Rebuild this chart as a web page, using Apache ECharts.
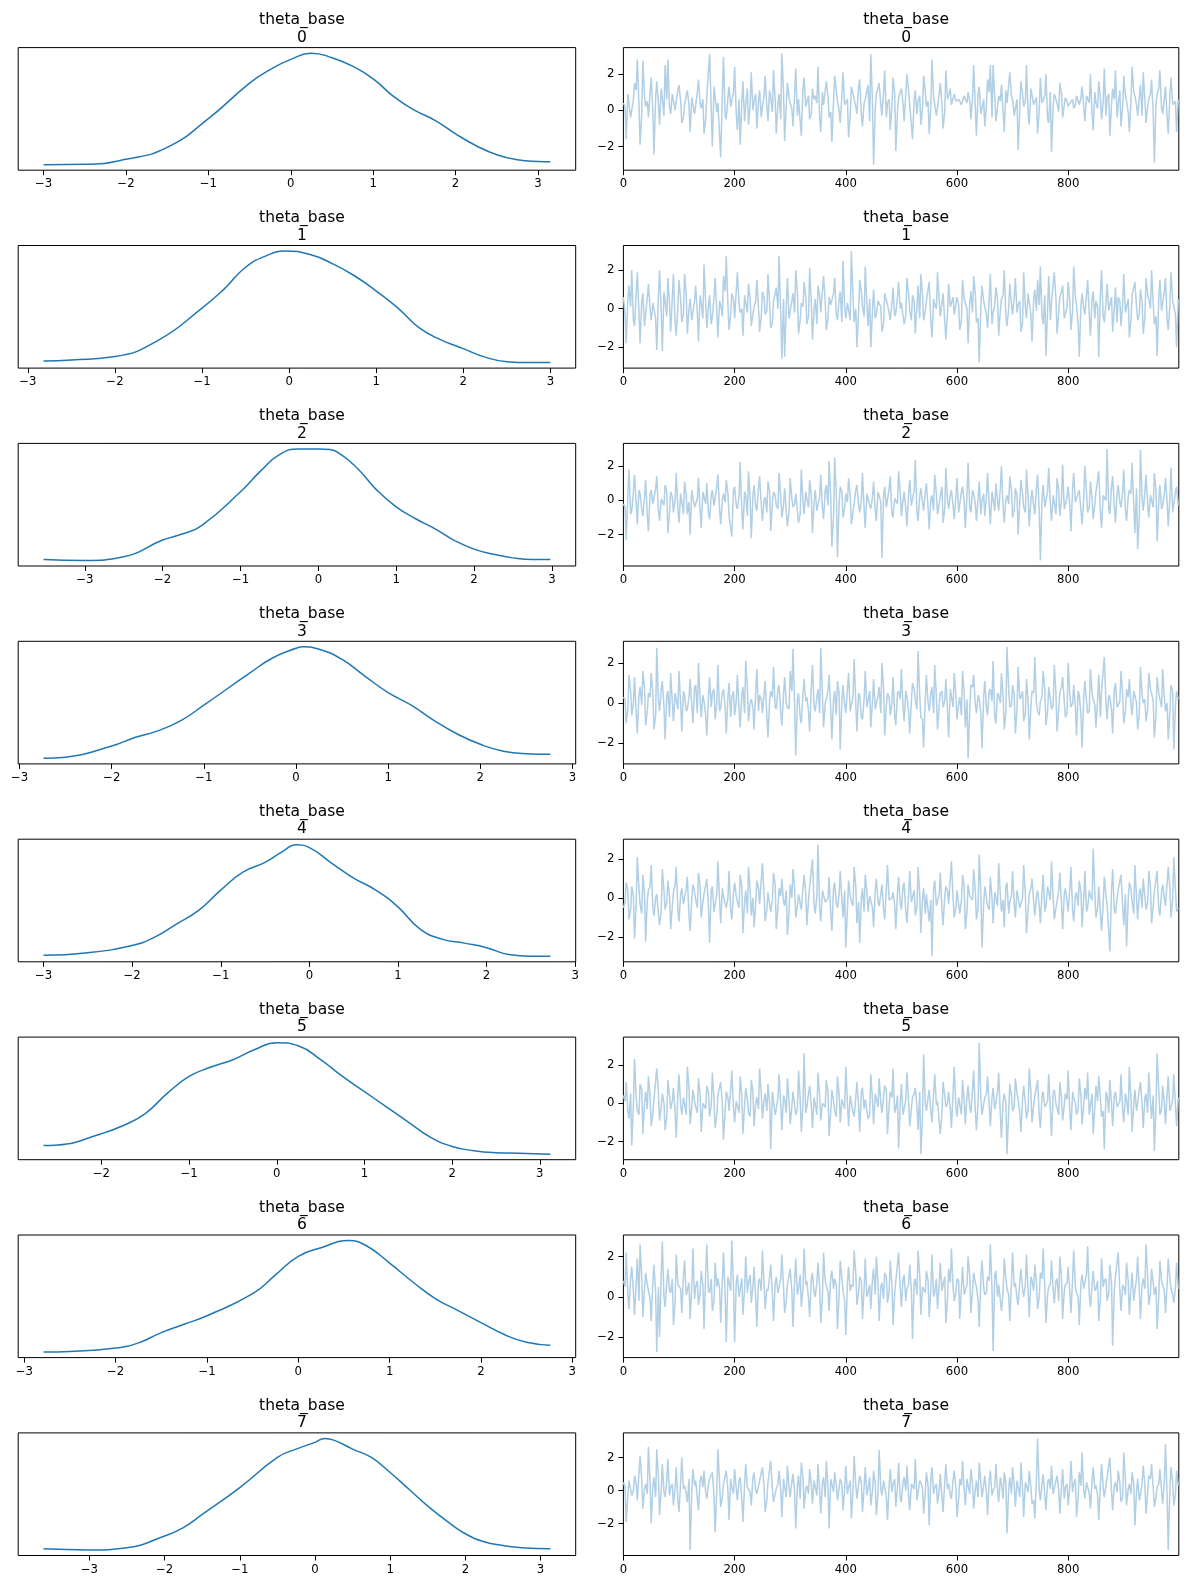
<!DOCTYPE html>
<html>
<head>
    <meta charset="utf-8">
    <title>theta_base trace</title>
    <script src="https://cdn.jsdelivr.net/npm/echarts@6.0.0/dist/echarts.min.js"></script>
    <style>
        html, body { margin: 0; padding: 0; background: #fff; }
    </style>
</head>
<body>
    <div id="main" style="width:1189px;height:1589px;"></div>
    <script type="text/javascript">
var varName = 'theta_base';
var coordLabels = ['0', '1', '2', '3', '4', '5', '6', '7'];
var traceStep = 5;   // trace arrays hold draws 0,5,10,...
var traceOffset = 3; // the "b" arrays hold draws 3,8,13,...
var traceTicks = [0, 200, 400, 600, 800];
var traceMaxDraw = 999;

// KDE curves: [value, density]
var kde0 = [[-3.0,0.005],[-2.5,0.006],[-2.0,0.024],[-1.5,0.066],[-1.0,0.168],[-0.5,0.294],[-0.25,0.342],[0,0.378],[0.25,0.400],[0.5,0.384],[0.75,0.354],[1.0,0.309],[1.25,0.246],[1.5,0.198],[1.75,0.162],[2.0,0.114],[2.25,0.072],[2.5,0.040],[2.75,0.022],[3.0,0.016],[3.15,0.015]];
var kde1 = [[-2.82,0.035],[-2.5,0.039],[-2.0,0.051],[-1.5,0.109],[-1.0,0.222],[-0.75,0.288],[-0.5,0.366],[-0.25,0.408],[-0.05,0.423],[0.25,0.410],[0.5,0.378],[0.75,0.336],[1.0,0.282],[1.25,0.222],[1.5,0.151],[1.75,0.109],[2.0,0.079],[2.25,0.049],[2.5,0.033],[2.75,0.030],[3.0,0.030]];
var kde2 = [[-3.53,0.032],[-3.0,0.029],[-2.5,0.042],[-2.0,0.101],[-1.75,0.122],[-1.5,0.152],[-1.0,0.271],[-0.75,0.342],[-0.5,0.402],[-0.25,0.422],[0,0.422],[0.15,0.420],[0.25,0.410],[0.5,0.354],[0.75,0.277],[1.0,0.218],[1.25,0.176],[1.5,0.140],[1.75,0.099],[2.0,0.069],[2.25,0.051],[2.5,0.038],[2.75,0.032],[2.98,0.032]];
var kde3 = [[-2.74,0.032],[-2.5,0.036],[-2.0,0.075],[-1.75,0.105],[-1.5,0.128],[-1.25,0.164],[-1.0,0.218],[-0.5,0.331],[-0.25,0.384],[0,0.417],[0.08,0.422],[0.25,0.414],[0.5,0.378],[0.75,0.319],[1.0,0.262],[1.25,0.218],[1.5,0.164],[1.75,0.117],[2.0,0.081],[2.25,0.057],[2.5,0.048],[2.76,0.046]];
var kde4 = [[-3.0,0.030],[-2.5,0.039],[-2.0,0.065],[-1.75,0.093],[-1.5,0.140],[-1.25,0.188],[-1.0,0.259],[-0.75,0.322],[-0.5,0.356],[-0.3,0.395],[-0.15,0.418],[0,0.408],[0.25,0.354],[0.5,0.301],[0.75,0.259],[1.0,0.200],[1.25,0.122],[1.5,0.087],[1.75,0.073],[2.0,0.057],[2.25,0.033],[2.5,0.027],[2.72,0.027]];
var kde5 = [[-2.66,0.057],[-2.5,0.059],[-2.0,0.099],[-1.75,0.128],[-1.5,0.170],[-1.25,0.241],[-1.0,0.301],[-0.75,0.334],[-0.5,0.360],[-0.25,0.396],[0,0.420],[0.25,0.408],[0.5,0.360],[0.75,0.301],[1.0,0.247],[1.25,0.194],[1.5,0.140],[1.75,0.087],[2.0,0.054],[2.25,0.039],[2.5,0.032],[2.75,0.030],[3.12,0.027]];
var kde6 = [[-2.79,0.031],[-2.5,0.033],[-2.0,0.045],[-1.75,0.063],[-1.5,0.099],[-1.25,0.128],[-1.0,0.158],[-0.5,0.235],[-0.25,0.301],[0,0.366],[0.25,0.396],[0.55,0.421],[0.75,0.402],[1.0,0.342],[1.25,0.277],[1.5,0.218],[1.75,0.176],[2.0,0.134],[2.25,0.093],[2.5,0.065],[2.76,0.055]];
var kde7 = [[-3.61,0.026],[-3.0,0.022],[-2.5,0.030],[-2.0,0.072],[-1.75,0.102],[-1.5,0.149],[-1.0,0.245],[-0.5,0.353],[-0.25,0.383],[0,0.407],[0.13,0.421],[0.25,0.415],[0.5,0.383],[0.75,0.353],[1.0,0.299],[1.25,0.239],[1.5,0.179],[1.75,0.126],[2.0,0.080],[2.25,0.051],[2.5,0.038],[2.75,0.030],[3.13,0.026]];

// traces, draws 0,5,10,...
var trace0 = [0.4,-1.6,0.9,-0.3,1.5,2.8,-1.9,2.75,0.2,-0.4, 1.8,-2.45,1.6,-0.8,0.7,2.5,2.8,-0.2,0.9,0.5,
  1.4,-0.7,0.3,1.1,-1.2,0.6,-0.3,1.7,0.1,-1.3, 0.8,3.1,-2.0,1.2,0.4,-2.6,2.95,-0.5,1.3,0.2,
  2.4,-1.1,-1.9,1.6,0.3,-0.8,2.1,0.5,-1.0,1.1, 0.2,1.9,-0.6,0.7,2.2,-1.3,0.9,3.15,-1.7,1.5,
  0.4,-0.9,2.3,0.6,-1.4,1.8,0.1,-0.5,1.2,0.8, 2.4,-1.2,0.3,1.6,-0.4,-1.75,1.9,0.5,-0.7,2.1,
  0.2,-1.5,1.3,0.8,-0.2,1.7,-0.9,0.6,1.4,3.1, -3.0,0.9,1.5,-0.3,2.2,0.4,-1.1,1.8,-2.25,0.7,
  1.2,-0.6,2.0,0.3,-1.6,1.1,0.5,-0.8,1.9,0.2, -1.3,2.8,0.6,-0.4,1.5,-1.0,2.2,0.8,0.3,0.9,
  0.4,0.7,0.2,0.6,1.0,-0.5,2.5,-1.4,1.3,0.1, -0.9,1.7,2.5,2.5,-0.6,0.8,1.4,-1.2,0.4,2.1,
  0.6,-0.3,-2.2,1.6,0.2,2.5,-0.8,1.1,0.5,-1.3, 1.8,0.3,2.0,-0.7,-2.3,0.9,0.4,1.5,-0.4,0.7,
  0.2,0.5,0.1,0.8,0.3,1.3,-0.6,0.9,2.0,-1.1, 0.4,1.6,-0.5,2.3,0.7,-1.4,1.2,2.2,0.3,-0.9,
  1.9,0.5,-1.2,2.4,0.8,-0.3,1.4,2.1,-0.7,0.6, 1.7,-2.9,0.9,2.2,-0.2,1.3,-1.3,1.8,0.4,-1.2];
var trace1 = [0.6,-1.8,1.2,2.0,-0.9,1.9,-1.8,0.8,-0.3,1.3, -0.6,0.4,-2.15,2.0,-2.2,0.9,1.6,-1.2,1.8,-1.4,
  1.5,-0.7,1.8,-1.3,0.5,-0.2,1.2,-1.7,0.3,2.3, -1.0,0.7,-0.4,1.6,-1.5,0.2,1.7,2.75,-1.1,0.8,
  -0.5,1.9,-0.2,-1.4,0.6,1.3,-0.9,0.1,1.5,-1.2, 0.9,-0.3,1.8,-1.0,0.4,1.1,2.75,-2.6,-2.5,1.6,
  -0.4,0.8,2.0,-1.3,0.3,1.4,-0.8,2.1,-1.6,0.5, 1.2,-0.2,1.7,-1.1,0.6,0.2,1.6,-0.6,0.9,2.5,
  -0.5,0.4,3.0,-0.7,-2.0,1.5,0.1,2.2,-0.9,-2.0, 1.0,-0.3,0.5,-1.2,0.8,0.2,-0.6,1.1,-0.2,1.4,
  0.3,-0.8,1.6,-0.1,0.7,-1.3,1.2,1.8,-0.6,0.4, 1.4,-1.5,0.2,1.9,-0.4,0.8,-1.6,1.3,0.1,-0.3,
  0.6,-1.1,1.5,0.3,-1.8,0.9,1.7,-0.7,-2.8,1.2, 0.4,-1.0,1.8,-0.2,1.1,-1.4,0.5,2.0,-0.9,1.3,
  -0.3,1.6,0.2,-1.2,1.9,-0.5,0.7,-1.7,1.0,1.5, 2.2,-0.8,-2.45,1.7,0.3,1.9,-1.3,0.6,1.2,-0.4,
  1.4,-1.1,2.2,0.2,-2.5,0.8,-0.3,1.5,-1.4,0.9, 0.4,-2.5,2.0,-0.7,1.3,0.2,-1.2,1.1,0.6,-0.9,
  1.8,0.1,-1.5,0.7,1.4,-0.6,1.0,-1.3,1.6,0.5, 2.0,-0.8,-2.45,1.5,0.3,1.6,-1.1,1.9,0.4,-2.0];
var trace2 = [-0.2,-2.3,1.8,-0.6,1.5,-1.4,0.4,-0.9,1.2,-1.8, 0.6,-0.3,1.4,-1.2,0.1,0.9,-1.9,0.5,-0.7,1.6,
  -1.3,0.3,1.1,-0.8,-2.0,0.7,-0.4,1.3,-1.6,0.2, 1.0,-1.1,0.6,-0.2,1.5,-1.4,0.4,1.2,-0.9,-2.1,
  0.8,-0.5,2.25,-1.7,0.3,1.7,-2.2,0.9,-0.6,1.4, -1.2,0.2,1.1,-1.8,0.5,-0.3,1.6,-1.0,0.7,-1.5,
  1.3,-0.4,0.4,-1.3,1.8,-0.8,0.1,1.2,-1.9,0.6, -0.6,1.5,-1.1,0.9,2.3,-2.7,2.5,-3.3,0.8,-1.0,
  0.4,1.3,-1.4,-0.2,0.9,-0.7,1.6,-1.6,0.3,-0.5, 1.1,-1.2,0.6,-3.35,0.8,-0.4,1.4,-1.0,0.2,1.7,
  -0.9,0.5,-1.5,1.2,-0.3,2.35,-1.2,0.7,-0.6,1.0, -1.7,0.3,1.5,-0.8,0.2,-1.3,1.9,-0.5,0.6,-1.1,
  1.3,-0.2,0.8,-1.6,2.2,-0.7,0.4,-1.2,1.1,0.0, -0.9,1.6,-1.4,0.5,1.0,-0.6,2.0,-1.3,0.3,1.4,
  -1.0,0.7,-2.0,1.2,-0.4,1.8,-1.5,0.6,-0.8,1.5, -3.5,0.9,-0.3,1.9,-1.2,0.4,1.3,-0.9,2.1,-0.5,
  0.8,-1.8,1.6,-0.2,0.6,-1.4,2.0,-0.7,1.1,-1.1, 0.5,1.7,-1.6,0.2,3.0,-0.8,1.4,-1.3,0.9,-0.4,
  1.8,-1.2,0.6,2.2,-1.9,-2.85,2.95,-0.6,1.5,-1.0, 0.4,1.6,-2.4,0.9,-0.3,1.3,-1.5,1.9,-0.6,0.8];
var trace3 = [0.3,-1.0,1.4,-0.6,1.3,-1.5,0.8,1.6,-1.1,0.5, 1.5,-1.3,2.75,-0.4,1.1,-1.8,0.6,1.5,-0.9,0.2,
  1.6,-1.4,0.4,-0.3,1.2,-1.0,0.9,2.0,-0.7,0.1, -1.6,1.3,0.5,-0.8,1.9,-0.2,0.7,-1.5,1.0,0.3,
  -0.6,1.4,-1.2,0.8,2.1,-0.9,0.2,-1.3,1.7,0.4, -0.5,1.1,-1.7,0.6,1.8,-0.3,0.9,-1.1,1.3,-0.2,
  1.6,2.7,-2.6,0.5,-1.0,1.2,0.3,-1.4,1.9,-0.4, 0.7,2.75,-1.2,0.2,1.4,-1.8,0.6,1.1,-2.3,0.9,
  -0.5,1.5,-0.1,2.2,-1.4,0.4,-0.8,1.6,0.1,-1.2, 1.2,-0.3,0.8,2.0,-1.6,0.5,-0.6,1.3,-1.1,0.6,
  1.7,-0.9,0.3,-1.5,1.0,0.2,2.6,-0.7,-2.2,1.4, -0.4,0.8,1.9,-1.3,0.5,-0.2,1.2,-1.7,0.7,1.5,
  -0.8,0.3,1.6,-1.2,-2.74,0.9,1.4,-0.5,0.2,-2.25, 1.1,-0.6,0.7,2.1,-1.0,0.4,1.5,-1.3,2.8,-0.2,
  0.9,-1.5,1.8,0.3,-0.9,1.2,-1.8,0.6,2.3,-0.4, 0.1,1.6,-1.1,0.8,-0.3,1.9,-1.4,0.5,1.3,-0.7,
  2.0,-0.2,0.9,-1.6,0.4,-2.2,1.1,-0.5,1.7,0.2, -1.2,1.4,0.6,2.3,-0.8,0.3,-1.5,1.0,-0.1,1.6,
  -1.0,0.7,1.2,-0.6,0.4,-1.3,1.8,0.0,-0.9,1.5, 0.5,-1.7,1.3,0.2,1.7,-0.4,-1.8,0.9,-2.3,0.6];
var trace4 = [-0.5,0.8,-1.1,0.6,-2.1,2.1,-0.3,1.2,-2.25,0.4, 1.7,-0.9,0.2,-1.4,1.5,-0.6,0.9,-1.6,0.3,1.6,
  -1.2,0.5,-0.4,1.1,-1.7,0.7,-0.1,1.3,-1.0,0.2, 1.0,-2.3,0.6,-0.8,1.9,-1.3,0.1,-0.5,1.4,-1.1,
  0.8,-0.2,1.2,-1.8,0.4,1.6,-0.9,-1.5,0.9,-0.3, 1.8,-1.2,0.3,-0.7,1.3,-1.6,0.5,1.0,-0.4,-1.9,
  0.7,1.5,-1.0,0.2,-0.6,1.2,-1.4,0.6,2.0,-0.8, 2.75,-1.2,0.4,-0.3,1.1,-1.7,0.8,-0.5,1.4,-1.0,
  -2.55,0.9,-0.2,1.6,-1.3,-2.3,0.5,1.2,-0.7,0.1, -1.5,1.0,-0.4,0.7,-1.1,1.7,-0.2,0.3,-1.6,1.1,
  -0.6,0.8,-1.3,1.4,-0.1,-0.9,1.6,-1.8,0.5,0.2, -1.2,-3.0,0.9,-0.5,1.3,-1.4,0.6,-0.3,1.9,-1.0,
  0.4,-0.8,1.2,-1.6,0.7,0.0,1.5,-1.1,2.25,-2.55, 0.6,-0.4,1.1,-1.3,0.3,1.8,-0.7,-1.5,0.8,-0.2,
  1.4,-1.0,0.5,-0.6,1.7,-1.8,0.2,1.0,-0.9,0.4, -1.3,1.2,-0.4,0.7,1.9,-1.1,-0.2,1.3,-1.6,0.5,
  -0.7,1.6,-1.2,0.3,0.9,-1.5,1.4,-0.5,0.1,2.55, -1.0,0.6,-1.7,1.1,-0.3,-2.75,1.5,-0.8,0.4,1.2,
  -1.4,-2.5,0.8,-0.2,1.7,-1.1,0.5,1.0,-0.6,1.4, -1.3,0.3,1.4,-0.9,0.7,-0.4,1.6,-1.0,2.1,-0.7];
var trace5 = [0.4,1.1,-0.8,-2.2,2.3,-0.4,1.0,-1.6,0.6,1.4, -1.2,0.2,1.8,-0.9,0.5,-1.4,1.2,-0.3,0.8,-1.8,
  1.5,-0.6,0.3,1.9,-1.1,0.7,-0.2,1.3,-1.5,0.1, 0.9,-0.7,1.6,-1.3,0.4,1.1,-1.9,0.6,-0.4,1.7,
  -1.0,0.2,1.4,-1.6,0.8,-0.5,1.2,-1.2,0.3,1.8, -0.8,0.5,1.0,-2.4,0.7,-0.3,1.5,-1.4,0.2,1.3,
  -1.1,0.6,-0.6,1.7,-1.5,2.6,-0.2,0.9,-1.3,0.4, 1.6,-0.9,0.1,1.2,-1.7,0.7,-0.4,1.4,-1.0,0.3,
  1.9,-1.2,0.5,-0.7,1.1,-1.5,0.8,0.2,-0.8,1.5, -1.1,0.4,1.3,-0.5,0.9,-1.6,0.6,1.8,-0.3,-2.35,
  1.0,-0.6,1.6,-1.2,0.3,0.8,-1.4,-2.65,2.55,-0.4, 0.7,-1.0,1.5,0.1,-1.6,1.1,-0.2,0.6,-1.3,1.9,
  -0.7,0.4,1.2,-1.1,0.9,-0.5,1.7,-1.4,3.15,-0.6, 0.3,1.4,-1.2,0.8,-0.3,1.6,-1.8,0.5,-2.65,1.0,
  -0.4,1.3,0.2,-1.5,0.9,-0.8,1.8,-1.0,0.4,1.2, -1.3,0.6,-0.2,1.5,-1.7,0.7,0.1,1.1,-0.9,0.5,
  1.7,-1.4,0.3,-0.6,1.3,-1.1,0.8,1.6,-0.5,-1.6, 0.9,1.4,-0.7,-2.4,0.4,1.2,-1.2,0.6,-0.3,1.5,
  -1.0,0.2,1.9,-1.5,0.7,-0.4,1.1,-1.3,0.5,1.6, -0.8,-2.5,2.6,-0.6,0.9,-1.1,1.4,-0.2,1.5,-1.2];
var trace6 = [0.8,2.2,-0.6,1.5,-0.9,1.9,2.6,-1.0,1.2,0.3, -1.2,1.6,-2.75,-2.0,2.75,-0.5,1.4,0.2,-1.4,2.1,
  0.6,-0.8,1.8,0.1,-1.1,2.4,0.5,-0.4,1.3,-1.6, 2.6,0.2,-0.7,1.7,0.9,-1.3,2.2,-2.25,1.0,2.8,
  -2.25,1.1,0.4,-0.9,2.0,0.7,-0.3,1.5,-1.5,0.9, 2.3,-0.6,0.3,1.6,-1.2,1.0,0.2,2.1,-0.8,0.6,
  1.4,-1.5,1.9,0.4,-0.5,2.4,0.8,-1.0,1.2,0.0, 1.7,-1.3,2.2,0.5,-0.7,1.3,0.9,-1.6,1.8,0.3,
  -1.9,1.5,0.6,2.3,-0.4,1.0,-1.1,1.9,0.2,-0.6, 1.4,2.0,-1.2,0.7,1.2,-0.3,1.8,-1.4,0.8,2.2,
  -0.5,1.1,0.4,1.6,-2.1,0.9,2.3,-0.9,0.5,1.3, -1.0,2.1,0.2,-0.6,1.7,0.6,-1.3,1.4,2.4,-0.2,
  0.9,-1.1,1.5,0.3,2.0,-0.8,1.2,0.5,-1.5,1.8, 0.1,1.0,2.6,-2.7,1.3,0.6,-0.7,1.9,0.4,-1.2,
  2.2,0.7,-0.4,1.4,0.0,2.1,-1.0,0.8,1.6,-0.6, 1.2,2.4,-1.3,0.5,1.8,-0.3,0.9,2.0,-1.1,0.6,
  1.5,-0.8,2.3,0.2,-1.4,1.1,0.7,2.5,-0.5,1.3, 0.4,-1.2,1.9,0.8,-0.2,1.6,-2.45,1.0,2.2,-0.7,
  0.5,1.7,-0.9,1.2,0.3,2.0,-1.1,0.9,2.6,-0.4, 1.4,0.1,-1.6,1.8,0.6,-0.8,1.9,0.4,-0.3,1.7];
var trace7 = [0.5,-1.9,0.6,-0.3,0.9,-0.6,2.1,-1.1,0.4,2.65, -2.0,0.8,2.5,-1.5,1.6,-0.4,1.9,0.2,-0.9,1.4,
  -1.3,2.0,0.3,-0.7,-3.6,1.3,0.6,-1.2,0.9,1.2, -0.5,0.7,1.1,-2.55,2.5,-1.0,0.4,1.2,-1.8,0.2,
  1.3,-0.6,0.8,-1.9,1.6,0.3,-0.9,1.1,-0.2,0.6, 1.4,-1.3,0.5,1.8,-0.7,0.1,1.2,-1.6,0.7,1.5,
  -0.4,1.0,-2.3,0.9,1.7,-1.1,0.3,1.3,-0.8,0.5, 1.6,-1.4,0.8,1.8,-2.3,0.4,1.1,-0.6,0.7,-1.2,
  1.5,0.2,-1.7,2.1,-0.5,0.9,-1.3,1.4,0.1,-0.9, 1.2,-1.5,2.45,-0.3,0.6,-1.8,1.3,0.4,-1.0,1.7,
  -0.7,0.8,1.5,-1.2,0.3,1.9,-0.6,0.5,-1.4,1.1, -2.1,1.4,0.2,-0.8,1.0,-1.3,1.6,0.4,-0.5,1.2,
  -1.6,0.7,1.8,-0.9,0.3,1.3,-1.1,0.6,1.7,-0.4, 0.9,-1.5,1.2,0.0,1.6,-0.7,0.4,1.1,-2.6,0.8,
  1.4,-1.0,0.5,1.7,-1.6,0.3,1.2,-0.8,-1.7,3.15, -0.6,1.0,-1.2,0.7,1.5,-0.3,0.9,-1.4,1.3,0.2,
  -0.9,1.8,0.4,-1.6,1.1,2.3,-0.5,0.6,-1.1,1.4, 0.3,-1.8,1.6,-0.4,0.8,2.0,-1.2,0.5,1.2,-0.7,
  2.3,-0.9,0.4,1.1,-2.1,0.7,-0.3,1.5,-1.4,0.9, 1.6,-1.0,0.2,1.3,-0.8,2.8,-3.6,1.4,-0.9,1.2];

// in-between draws 3,8,13,... (the dense middle of each band)
var trace0b = [0.2,0.9,-0.4,0.6,1.1,0.3,-0.2,0.8,0.5,1.0, -0.1,0.7,0.4,1.2,-0.3,0.6,0.2,0.9,0.0,1.1,
  0.5,-0.4,0.8,0.3,0.7,-0.2,1.0,0.4,0.6,-0.5, 0.9,0.1,1.3,-0.1,0.5,0.8,-0.3,0.7,0.2,1.0,
  -0.2,0.6,0.4,-0.6,1.2,0.3,0.0,0.9,0.5,-0.4, 0.8,0.2,1.1,-0.1,0.6,0.4,-0.5,1.0,0.3,0.7,
  0.1,0.9,-0.3,0.5,1.2,0.2,0.8,-0.2,0.6,0.4, -0.4,1.0,0.3,0.7,-0.1,0.5,1.1,0.0,0.8,0.3,
  0.6,-0.3,0.9,0.2,1.3,-0.2,0.4,0.7,-0.6,0.5, 0.1,0.8,0.3,1.0,-0.4,0.6,0.2,0.9,-0.1,0.7,
  0.4,-0.5,1.1,0.3,0.6,-0.2,0.8,0.1,1.0,0.5, 0.2,0.7,-0.3,0.9,0.4,-0.1,0.6,1.2,0.3,0.5,
  0.6,0.3,0.8,0.4,0.5,0.7,0.2,0.9,-0.2,0.6, 0.3,1.0,-0.4,0.7,0.2,0.5,-0.1,1.1,0.4,0.8,
  -0.3,0.6,0.1,0.9,0.5,-0.2,1.2,0.3,0.7,0.0, 0.4,0.8,-0.5,1.0,0.2,0.6,-0.1,0.9,0.3,0.5,
  0.4,0.6,0.3,0.5,0.7,0.2,0.8,0.4,-0.2,1.0, 0.1,0.7,0.5,-0.3,0.9,0.3,0.6,-0.4,1.1,0.2,
  0.8,-0.1,0.5,1.0,0.3,0.7,-0.3,0.6,0.2,0.9, -0.2,0.4,1.2,0.1,0.7,-0.4,0.8,0.3,0.5,0.6];
var trace1b = [-0.3,0.5,0.1,-0.6,0.8,-0.2,0.4,-0.9,0.6,0.0, 0.3,-0.5,0.7,-0.1,0.9,-0.4,0.2,0.6,-0.7,0.1,
  0.5,-0.3,0.8,0.0,-0.6,0.4,-0.2,0.7,-0.5,0.3, 0.1,-0.8,0.6,-0.1,0.4,-0.4,0.9,0.2,-0.3,0.5,
  -0.6,0.3,0.0,0.7,-0.2,0.5,-0.8,0.4,0.1,-0.4, 0.6,-0.1,0.3,-0.7,0.8,0.0,-0.3,0.5,0.2,-0.5,
  0.4,-0.2,0.9,-0.6,0.1,0.6,-0.4,0.3,0.0,-0.8, 0.7,-0.1,0.4,-0.5,0.2,0.8,-0.3,0.5,-0.7,0.1,
  0.3,-0.6,0.6,0.0,-0.2,0.9,-0.4,0.2,0.5,-0.1, -0.5,0.4,0.1,-0.8,0.7,-0.2,0.3,-0.4,0.6,0.0,
  0.2,-0.3,0.8,-0.6,0.4,0.1,-0.5,0.7,-0.1,0.3, -0.7,0.5,0.0,0.4,-0.3,0.9,-0.2,0.1,0.6,-0.4,
  0.2,-0.6,0.5,0.0,0.3,-0.2,0.8,-0.5,0.1,0.4, -0.3,0.6,-0.8,0.2,0.5,-0.1,0.7,-0.4,0.0,0.3,
  0.6,-0.2,0.4,-0.7,0.1,0.8,-0.3,0.5,-0.1,0.2, -0.4,0.7,0.0,-0.6,0.3,0.5,-0.2,0.9,-0.5,0.1,
  0.4,-0.1,0.6,-0.8,0.2,0.0,0.7,-0.3,0.5,-0.5, 0.1,0.8,-0.4,0.3,-0.1,0.6,0.0,-0.7,0.4,0.2,
  -0.2,0.5,-0.6,0.8,0.1,-0.3,0.4,-0.5,0.7,0.0, 0.3,-0.4,0.6,-0.1,0.9,-0.6,0.2,0.4,-0.3,0.5];
var trace2b = [-0.4,0.3,-0.8,0.5,-0.1,0.6,-0.5,0.2,-0.9,0.4, -0.2,0.7,-0.6,0.1,-0.3,0.5,-0.7,0.2,0.0,-0.5,
  0.4,-0.8,0.3,-0.1,0.6,-0.4,0.1,-0.6,0.5,-0.2, -0.7,0.3,-0.3,0.8,-0.5,0.0,-0.1,0.4,-0.8,0.6,
  -0.3,0.2,-0.6,0.5,-0.9,0.1,0.3,-0.4,0.7,-0.2, 0.0,-0.7,0.5,-0.1,0.3,-0.5,0.2,-0.3,0.6,-0.6,
  0.1,-0.2,0.4,-0.8,0.0,0.5,-0.4,0.3,-0.1,-0.6, 0.2,-0.5,0.6,-0.3,0.1,-0.9,0.4,-0.2,0.5,-0.4,
  -0.1,0.3,-0.7,0.6,-0.2,0.0,-0.5,0.4,-0.3,0.2, -0.6,0.5,-0.1,0.2,-0.4,0.7,-0.8,0.1,-0.2,0.4,
  0.0,-0.5,0.3,-0.3,0.6,-0.7,0.2,-0.1,0.5,-0.4, 0.1,-0.6,0.4,-0.2,0.8,-0.5,0.0,0.3,-0.3,0.2,
  -0.7,0.5,-0.1,0.3,-0.4,0.6,-0.2,0.1,-0.8,0.4, 0.2,-0.3,0.5,-0.6,0.0,0.7,-0.4,0.1,-0.2,0.6,
  -0.5,0.3,-0.1,0.4,-0.7,0.2,0.0,-0.3,0.8,-0.6, 0.1,-0.4,0.5,-0.2,0.3,-0.8,0.6,0.0,-0.5,0.2,
  -0.3,0.7,-0.1,0.4,-0.6,0.1,0.5,-0.4,0.2,-0.2, 0.6,-0.7,0.3,0.0,-0.5,0.8,-0.3,0.4,-0.1,0.5,
  -0.6,0.2,0.4,-0.3,0.7,-0.9,0.1,0.5,-0.2,0.3, -0.4,0.6,0.0,-0.5,0.4,-0.1,0.2,-0.7,0.5,-0.3];
var trace3b = [0.2,-0.3,0.6,0.0,-0.5,0.4,-0.1,0.8,-0.4,0.3, 0.5,-0.6,0.2,0.7,-0.2,0.4,-0.7,0.1,0.5,-0.3,
  0.0,0.6,-0.4,0.3,-0.1,0.8,-0.5,0.2,0.4,-0.6, 0.3,-0.2,0.7,0.0,-0.4,0.5,-0.1,0.3,-0.7,0.6,
  0.1,-0.3,0.4,-0.5,0.8,0.0,-0.2,0.6,-0.4,0.2, 0.5,-0.6,0.1,0.3,-0.2,0.7,-0.5,0.4,0.0,-0.3,
  0.6,-0.1,0.2,-0.7,0.5,0.1,-0.4,0.8,-0.2,0.3, -0.5,0.4,0.0,0.6,-0.3,0.2,-0.6,0.5,0.1,-0.1,
  0.7,-0.4,0.3,0.0,0.5,-0.7,0.2,-0.2,0.6,0.1, -0.3,0.4,-0.5,0.8,-0.1,0.3,0.0,-0.6,0.5,0.2,
  -0.2,0.6,-0.4,0.1,0.7,-0.3,0.4,-0.8,0.2,0.0, 0.5,-0.5,0.3,-0.1,0.6,0.1,-0.4,0.7,-0.2,0.4,
  0.0,-0.6,0.5,0.2,-0.3,0.8,-0.1,0.4,-0.5,0.3, -0.2,0.6,0.1,-0.7,0.5,0.0,0.3,-0.4,0.7,-0.1,
  0.4,-0.3,0.2,0.6,-0.5,0.1,-0.2,0.5,0.0,-0.6, 0.3,0.7,-0.4,0.2,-0.1,0.5,-0.3,0.8,0.1,-0.5,
  0.4,0.0,-0.2,0.6,-0.6,0.3,0.1,-0.4,0.5,-0.1, 0.2,-0.7,0.6,0.0,0.4,-0.3,0.7,-0.2,0.1,0.5,
  -0.4,0.3,-0.1,0.6,0.0,-0.5,0.4,0.2,-0.3,0.7, 0.1,-0.6,0.5,-0.2,0.3,0.0,-0.4,0.6,-0.1,0.2];
var trace4b = [-0.2,0.4,-0.6,0.1,-0.3,0.5,-0.8,0.2,-0.1,0.6, -0.5,0.0,0.3,-0.7,0.4,-0.2,0.1,-0.4,0.7,-0.6,
  0.2,-0.3,0.5,-0.9,0.0,0.3,-0.5,0.6,-0.2,0.1, -0.4,0.4,-0.7,0.2,-0.1,0.5,-0.3,0.0,-0.6,0.3,
  0.1,-0.5,0.6,-0.2,-0.8,0.4,0.0,-0.3,0.5,-0.4, 0.2,-0.6,0.3,-0.1,0.7,-0.5,0.1,-0.2,0.4,-0.7,
  0.0,0.5,-0.4,0.2,-0.6,0.3,-0.1,0.6,-0.3,0.1, -0.5,0.4,-0.2,0.0,-0.8,0.5,-0.3,0.2,-0.1,0.4,
  -0.6,0.1,-0.4,0.6,-0.2,0.0,-0.7,0.3,0.1,-0.5, 0.4,-0.2,0.2,-0.6,0.5,-0.1,0.0,-0.4,0.3,-0.3,
  0.6,-0.7,0.1,-0.2,0.4,-0.5,0.2,0.0,-0.8,0.3, -0.1,0.5,-0.4,0.2,-0.6,0.1,0.4,-0.3,0.0,-0.5,
  0.3,-0.2,0.6,-0.7,0.1,-0.1,0.4,-0.5,0.2,-0.3, 0.5,-0.6,0.0,0.3,-0.4,0.2,-0.1,0.6,-0.8,0.1,
  -0.3,0.4,-0.5,0.0,0.2,-0.6,0.5,-0.2,0.1,-0.4, 0.3,-0.7,0.6,-0.1,0.0,-0.5,0.4,-0.3,0.2,-0.2,
  0.5,-0.6,0.1,-0.4,0.3,0.0,-0.7,0.4,-0.1,0.2, -0.5,0.6,-0.3,0.1,-0.2,0.4,-0.6,0.0,0.3,-0.4,
  0.2,-0.1,0.5,-0.8,0.0,0.3,-0.5,0.1,-0.2,0.6, -0.4,0.2,-0.6,0.3,0.0,-0.3,0.5,-0.1,0.4,-0.5];
var trace5b = [0.1,-0.4,0.5,-0.1,0.3,-0.6,0.7,0.0,-0.3,0.4, -0.5,0.2,0.6,-0.2,0.0,-0.7,0.4,0.1,-0.4,0.5,
  -0.1,0.3,-0.6,0.8,-0.2,0.1,-0.5,0.4,0.0,-0.3, 0.6,-0.1,0.2,-0.6,0.5,0.0,-0.4,0.3,0.7,-0.2,
  0.1,-0.5,0.4,-0.1,0.2,-0.7,0.6,0.0,-0.3,0.5, 0.2,-0.4,0.0,0.6,-0.6,0.3,-0.1,0.4,-0.5,0.1,
  -0.2,0.7,-0.3,0.2,0.0,-0.5,0.5,-0.1,0.3,-0.6, 0.4,0.0,-0.2,0.6,-0.4,0.1,-0.7,0.5,0.2,-0.3,
  0.0,0.4,-0.5,0.3,-0.1,0.6,-0.3,0.1,-0.6,0.2, 0.5,-0.2,0.0,-0.4,0.7,-0.1,0.3,-0.5,0.4,0.0,
  -0.6,0.2,0.1,-0.3,0.5,-0.2,0.6,-0.7,0.0,0.3, -0.4,0.5,-0.1,0.2,-0.5,0.4,0.0,-0.3,0.6,-0.2,
  0.3,-0.6,0.1,0.4,-0.2,0.7,-0.4,0.0,0.2,-0.5, 0.5,-0.1,0.3,-0.3,0.6,-0.6,0.1,0.0,-0.4,0.4,
  -0.2,0.5,-0.5,0.2,0.0,-0.3,0.6,-0.1,0.3,-0.7, 0.4,-0.2,0.1,-0.4,0.5,0.0,-0.6,0.3,-0.1,0.2,
  -0.5,0.6,0.0,-0.3,0.4,-0.1,0.2,-0.6,0.5,-0.2, 0.1,0.3,-0.4,0.6,-0.5,0.0,0.4,-0.2,0.1,-0.3,
  0.5,-0.6,0.2,0.0,-0.4,0.7,-0.1,0.3,-0.5,0.1, 0.4,-0.2,0.6,-0.3,0.0,0.5,-0.4,0.2,-0.1,0.3];
var trace6b = [0.5,0.1,0.9,0.3,0.7,-0.2,1.0,0.4,0.6,-0.1, 0.8,0.2,0.5,1.1,0.0,0.7,0.3,0.9,-0.3,0.6,
  0.4,1.0,0.1,0.7,0.5,-0.1,0.8,0.2,0.6,1.2, 0.3,0.9,-0.2,0.5,0.4,0.8,0.1,1.0,0.3,0.6,
  0.7,0.0,0.9,0.4,0.2,1.1,0.5,-0.1,0.8,0.3, 0.6,0.4,1.0,0.1,0.7,0.2,0.9,0.5,-0.2,0.6,
  0.3,0.8,0.1,1.1,0.4,0.6,-0.1,0.9,0.2,0.7, 0.5,0.0,0.8,0.3,1.0,0.4,0.6,0.1,0.9,-0.2,
  0.7,0.3,0.5,1.2,0.2,0.8,0.4,0.0,0.6,0.9, 0.1,0.7,0.5,-0.1,1.0,0.3,0.6,0.2,0.8,0.4,
  0.9,-0.2,0.6,0.3,0.7,0.1,1.1,0.5,0.2,0.8, 0.4,0.0,0.9,0.6,0.3,1.0,-0.1,0.7,0.5,0.2,
  0.8,0.4,0.1,0.6,1.0,0.3,0.7,-0.2,0.9,0.5, 0.2,0.8,0.4,1.1,0.0,0.6,0.3,0.9,0.1,0.7,
  0.5,-0.1,0.8,0.4,0.6,0.2,1.0,0.3,0.7,0.0, 0.9,0.5,0.1,0.6,0.4,0.8,-0.2,1.0,0.3,0.7,
  0.2,0.9,0.5,0.0,0.7,0.4,1.1,0.1,0.6,0.3, 0.8,-0.1,0.5,0.9,0.2,0.7,0.4,1.0,0.3,0.6,
  0.1,0.8,0.5,-0.2,0.9,0.3,0.6,0.4,1.0,0.2, 0.7,0.5,0.0,0.8,0.3,0.6,0.9,0.1,0.5,0.4];
var trace7b = [0.2,-0.3,0.6,0.0,0.4,-0.5,0.7,0.1,-0.2,0.5, 0.3,-0.4,0.8,0.0,-0.1,0.6,-0.3,0.4,0.2,-0.6,
  0.5,0.1,-0.2,0.7,0.0,0.3,-0.5,0.6,0.2,-0.1, 0.4,0.8,-0.3,0.1,0.5,-0.4,0.3,0.0,0.7,-0.2,
  0.1,0.6,-0.5,0.4,0.2,-0.1,0.8,0.0,-0.3,0.5, 0.3,-0.6,0.6,0.1,-0.2,0.4,0.0,0.7,-0.4,0.2,
  0.5,-0.1,0.3,-0.5,0.8,0.1,-0.2,0.4,0.6,-0.3, 0.0,0.5,-0.4,0.2,0.7,-0.1,0.3,-0.6,0.4,0.1,
  -0.2,0.6,0.0,0.3,-0.5,0.5,0.2,-0.3,0.8,0.0, 0.4,-0.2,0.1,0.6,-0.4,0.3,-0.1,0.7,0.2,-0.5,
  0.5,0.0,-0.3,0.4,0.1,-0.6,0.6,0.2,-0.1,0.3, 0.8,-0.2,0.4,0.0,-0.4,0.5,0.1,-0.3,0.6,0.2,
  -0.5,0.3,0.0,0.7,-0.2,0.4,0.1,-0.4,0.5,0.3, -0.1,0.6,-0.3,0.2,0.0,0.8,-0.5,0.4,0.1,-0.2,
  0.3,0.6,-0.4,0.1,0.5,-0.1,0.2,-0.6,0.7,0.0, 0.4,-0.3,0.5,0.1,-0.2,0.6,0.0,0.3,-0.5,0.4,
  0.2,-0.1,0.7,-0.4,0.3,0.0,0.5,-0.2,0.6,0.1, -0.3,0.4,0.2,-0.5,0.8,0.0,0.3,-0.1,0.5,-0.4,
  0.6,0.1,-0.2,0.4,0.0,-0.6,0.5,0.3,-0.1,0.7, 0.2,-0.4,0.4,0.0,0.6,-0.3,0.1,0.5,-0.2,0.3];

var kdeList = [kde0, kde1, kde2, kde3, kde4, kde5, kde6, kde7];
var traceList = [trace0, trace1, trace2, trace3, trace4, trace5, trace6, trace7];
var traceListB = [trace0b, trace1b, trace2b, trace3b, trace4b, trace5b, trace6b, trace7b];

var myChart = echarts.init(document.getElementById('main'));

// panel layout (pixels)
var rowTop = 47.6, rowPitch = 197.9, boxH = 122.6;
var leftX = 18.2, leftW = 557.5;
var rightX = 623.4, rightW = 555.4;
var fontFam = '"DejaVu Sans", sans-serif';

function padded(vals) {
    var mn = Math.min.apply(null, vals), mx = Math.max.apply(null, vals);
    var r = mx - mn;
    return [mn - 0.05 * r, mx + 0.05 * r];
}
function ticksIn(lo, hi, step) {
    var out = [];
    for (var v = Math.ceil(lo / step) * step; v <= hi + 1e-9; v += step) {
        out.push(Math.round(v * 1000) / 1000);
    }
    return out;
}
function minusFmt(v) {
    return String(v).replace('-', '\u2212');
}
var tickStyle = { color: '#000', width: 1 };

var grids = [], xAxes = [], yAxes = [], series = [], titles = [];

for (var r = 0; r < kdeList.length; r++) {
    var boxTop = rowTop + r * rowPitch;
    var kde = kdeList[r];
    var kx = kde.map(function (p) { return p[0]; });
    var ky = kde.map(function (p) { return p[1]; });
    var xl = padded(kx), yl = padded(ky);
    var ta = traceList[r], tb = traceListB[r];
    var tl = padded(ta.concat(tb));
    var trData = [];
    for (var i = 0; i < ta.length; i++) {
        trData.push([i * traceStep, ta[i]]);
        if (i < tb.length) trData.push([i * traceStep + traceOffset, tb[i]]);
    }

    // left: kde
    grids.push({ left: leftX, top: boxTop, width: leftW, height: boxH, show: true,
        borderColor: '#000', borderWidth: 1, backgroundColor: 'transparent' });
    var kTicks = ticksIn(xl[0], xl[1], 1);
    xAxes.push({ type: 'value', gridIndex: 2 * r, min: xl[0], max: xl[1],
        axisLine: { show: false, onZero: false }, splitLine: { show: false },
        axisTick: { show: true, length: 5, lineStyle: tickStyle, customValues: kTicks },
        axisLabel: { customValues: kTicks, formatter: minusFmt, color: '#000', fontSize: 11.7, fontFamily: fontFam, margin: 8 } });
    yAxes.push({ type: 'value', gridIndex: 2 * r, min: yl[0], max: yl[1],
        axisLine: { show: false, onZero: false }, axisTick: { show: false }, axisLabel: { show: false }, splitLine: { show: false } });
    series.push({ type: 'line', xAxisIndex: 2 * r, yAxisIndex: 2 * r, data: kde,
        smooth: 0.5, showSymbol: false, silent: true,
        lineStyle: { color: '#1f77b4', width: 1.5 } });

    // right: trace
    grids.push({ left: rightX, top: boxTop, width: rightW, height: boxH, show: true,
        borderColor: '#000', borderWidth: 1, backgroundColor: 'transparent' });
    var tyTicks = ticksIn(tl[0], tl[1], 2);
    xAxes.push({ type: 'value', gridIndex: 2 * r + 1, min: 0, max: traceMaxDraw,
        axisLine: { show: false, onZero: false }, splitLine: { show: false },
        axisTick: { show: true, length: 5, lineStyle: tickStyle, customValues: traceTicks },
        axisLabel: { customValues: traceTicks, color: '#000', fontSize: 11.7, fontFamily: fontFam, margin: 8 } });
    yAxes.push({ type: 'value', gridIndex: 2 * r + 1, min: tl[0], max: tl[1],
        axisLine: { show: false, onZero: false }, splitLine: { show: false },
        axisTick: { show: true, length: 5, lineStyle: tickStyle, customValues: tyTicks },
        axisLabel: { customValues: tyTicks, formatter: minusFmt, color: '#000', fontSize: 11.7, fontFamily: fontFam, margin: 9 } });
    series.push({ type: 'line', xAxisIndex: 2 * r + 1, yAxisIndex: 2 * r + 1, data: trData,
        showSymbol: false, silent: true, clip: true,
        lineStyle: { color: '#b1cfe5', width: 1.5 } });

    // titles
    [leftX + leftW / 2, rightX + rightW / 2].forEach(function (cx) {
        titles.push({ text: varName + '\n' + coordLabels[r], left: cx, top: boxTop - 41, textAlign: 'center',
            textStyle: { fontSize: 15.5, fontWeight: 'normal', color: '#000', fontFamily: fontFam, lineHeight: 17.5 } });
    });
}

var option = {
    backgroundColor: '#fff',
    animation: false,
    title: titles,
    grid: grids,
    xAxis: xAxes,
    yAxis: yAxes,
    series: series
};

myChart.setOption(option);
    </script>
</body>
</html>
